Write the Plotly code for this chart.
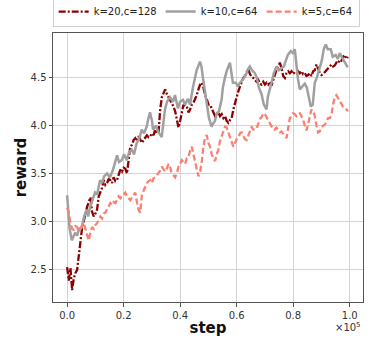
import numpy as np
import plotly.graph_objects as go

# k=20,c=128 (dark red, dash-dot) - regular logging grid
red_values = [
    2.52, 2.38, 2.51, 2.28, 2.40, 2.46, 2.49, 2.65, 2.77, 2.93, 3.00, 3.08, 3.15, 3.20, 3.25, 3.10,
    3.05, 3.08, 3.12, 3.26, 3.30, 3.35, 3.43, 3.38, 3.40, 3.44, 3.43, 3.40, 3.46, 3.42, 3.43, 3.48,
    3.54, 3.52, 3.56, 3.55, 3.50, 3.64, 3.78, 3.80, 3.85, 3.87, 3.84, 3.89, 3.86, 3.82, 3.85, 3.87,
    3.90, 3.88, 3.89, 3.92, 3.90, 3.96, 3.92, 3.93, 4.17, 4.30, 4.34, 4.38, 4.33, 4.30, 4.27, 4.24,
    4.20, 4.15, 4.08, 3.98, 4.05, 4.14, 4.22, 4.20, 4.20, 4.14, 4.17, 4.22, 4.24, 4.28, 4.32, 4.38,
    4.43, 4.45, 4.40, 4.32, 4.28, 4.22, 4.22, 4.18, 4.14, 4.10, 4.12, 4.14, 4.10, 4.12, 4.08, 4.10,
    4.05, 4.03, 4.06, 4.08, 4.17, 4.24, 4.30, 4.36, 4.41, 4.46, 4.50, 4.52, 4.56, 4.59, 4.54, 4.51,
    4.50, 4.48, 4.46, 4.48, 4.44, 4.43, 4.46, 4.43, 4.45, 4.43, 4.46, 4.42, 4.48, 4.55, 4.59, 4.62,
    4.66, 4.60, 4.52, 4.50, 4.55, 4.57, 4.55, 4.57, 4.54, 4.56, 4.55, 4.57, 4.55, 4.57, 4.54, 4.55,
    4.52, 4.53, 4.55, 4.52, 4.57, 4.58, 4.64, 4.60, 4.55, 4.53, 4.54, 4.56, 4.58, 4.61, 4.62, 4.64,
    4.62, 4.63, 4.66, 4.65, 4.69, 4.68, 4.72, 4.74, 4.70, 4.72,
]

# k=5,c=64 (salmon, dashed) - same logging grid
salmon_values = [
    3.14, 3.09, 2.98, 2.92, 2.91, 2.95, 2.94, 2.90, 2.91, 2.96, 2.98, 2.92, 2.85, 2.80, 2.88, 2.94,
    2.92, 2.96, 2.98, 3.02, 3.05, 3.03, 3.08, 3.09, 3.12, 3.15, 3.19, 3.17, 3.20, 3.19, 3.23, 3.26,
    3.24, 3.27, 3.28, 3.30, 3.26, 3.24, 3.22, 3.25, 3.28, 3.30, 3.20, 3.12, 3.09, 3.28, 3.32, 3.36,
    3.40, 3.42, 3.43, 3.40, 3.45, 3.46, 3.48, 3.50, 3.53, 3.57, 3.54, 3.52, 3.55, 3.60, 3.56, 3.50,
    3.48, 3.46, 3.50, 3.57, 3.60, 3.64, 3.62, 3.60, 3.66, 3.67, 3.74, 3.78, 3.70, 3.61, 3.54, 3.47,
    3.52, 3.62, 3.78, 3.88, 3.90, 3.82, 3.78, 3.70, 3.66, 3.63, 3.70, 3.75, 3.84, 3.89, 3.95, 3.99,
    3.98, 3.93, 3.88, 3.82, 3.78, 3.82, 3.86, 3.88, 3.92, 3.93, 3.90, 3.86, 3.85, 3.90, 3.94, 3.99,
    3.96, 3.96, 3.97, 4.02, 4.07, 4.09, 4.13, 4.12, 4.09, 4.06, 4.03, 4.00, 3.96, 3.96, 3.98, 3.95,
    3.93, 3.94, 3.91, 3.89, 3.87, 3.98, 4.08, 4.10, 4.13, 4.12, 4.10, 4.12, 4.13, 4.10, 4.06, 4.00,
    3.95, 4.02, 4.10, 4.17, 4.15, 4.10, 4.00, 3.93, 3.94, 3.98, 4.00, 4.01, 4.04, 4.08, 4.08, 4.11,
    4.22, 4.30, 4.32, 4.29, 4.26, 4.22, 4.20, 4.19, 4.17, 4.15,
]

# k=10,c=64 (grey, solid) - steps in units of 1e5
grey_steps = [
    0.0000, 0.0035, 0.0088, 0.0166, 0.0212, 0.0283, 0.0353, 0.0424, 0.0519, 0.0601, 0.0696, 0.0742,
    0.0813, 0.0919, 0.0989, 0.1060, 0.1166, 0.1237, 0.1307, 0.1413, 0.1519, 0.1625, 0.1696, 0.1767,
    0.1837, 0.1933, 0.2014, 0.2110, 0.2191, 0.2286, 0.2367, 0.2463, 0.2544, 0.2640, 0.2721, 0.2816,
    0.2862, 0.2933, 0.3004, 0.3039, 0.3145, 0.3216, 0.3346, 0.3392, 0.3463, 0.3534, 0.3640, 0.3746,
    0.3816, 0.3922, 0.3993, 0.4099, 0.4170, 0.4276, 0.4346, 0.4452, 0.4583, 0.4700, 0.4753, 0.4806,
    0.4876, 0.4947, 0.5018, 0.5113, 0.5159, 0.5230, 0.5300, 0.5371, 0.5466, 0.5512, 0.5583, 0.5654,
    0.5760, 0.5813, 0.5866, 0.5972, 0.6042, 0.6113, 0.6219, 0.6350, 0.6396, 0.6466, 0.6537, 0.6643,
    0.6714, 0.6784, 0.6880, 0.6961, 0.7057, 0.7102, 0.7173, 0.7233, 0.7314, 0.7410, 0.7491, 0.7587,
    0.7668, 0.7739, 0.7809, 0.7915, 0.7986, 0.8057, 0.8110, 0.8163, 0.8233, 0.8304, 0.8410, 0.8481,
    0.8551, 0.8622, 0.8693, 0.8763, 0.8834, 0.8940, 0.9011, 0.9081, 0.9152, 0.9223, 0.9329, 0.9399,
    0.9505, 0.9576, 0.9647, 0.9717, 0.9823, 0.9929,
]
grey_values = [
    3.27, 3.10, 2.92, 2.80, 2.84, 2.88, 2.85, 2.92, 2.94, 3.05, 3.12, 3.05,
    3.15, 3.25, 3.30, 3.28, 3.43, 3.40, 3.47, 3.50, 3.46, 3.54, 3.61, 3.69,
    3.62, 3.64, 3.70, 3.64, 3.72, 3.75, 3.70, 3.82, 3.86, 3.96, 3.92, 3.99,
    4.06, 4.14, 4.05, 3.96, 4.00, 3.94, 3.88, 4.00, 4.17, 4.25, 4.30, 4.25,
    4.32, 4.18, 4.25, 4.27, 4.22, 4.28, 4.22, 4.40, 4.58, 4.67, 4.62, 4.50,
    4.38, 4.22, 4.08, 3.99, 4.02, 4.05, 4.13, 4.15, 4.27, 4.40, 4.50, 4.58,
    4.66, 4.55, 4.45, 4.45, 4.41, 4.45, 4.48, 4.55, 4.59, 4.62, 4.58, 4.55,
    4.50, 4.40, 4.33, 4.22, 4.17, 4.30, 4.40, 4.45, 4.55, 4.62, 4.58, 4.60,
    4.62, 4.68, 4.74, 4.78, 4.76, 4.80, 4.65, 4.50, 4.38, 4.40, 4.44, 4.40,
    4.28, 4.20, 4.22, 4.45, 4.50, 4.62, 4.68, 4.80, 4.85, 4.80, 4.80, 4.72,
    4.74, 4.70, 4.76, 4.72, 4.66, 4.61,
]

last_step = 0.994  # last logged step, in units of 1e5
red_steps = np.linspace(0, last_step, len(red_values))
salmon_steps = np.linspace(0, last_step, len(salmon_values))

FONT = "DejaVu Sans"

fig = go.Figure()
fig.add_trace(go.Scatter(x=red_steps, y=red_values, mode="lines", name="k=20,c=128",
                         legendwidth=62,
                         line=dict(color="#8B0000", width=2.3, dash="7px,2px,2px,2px")))
fig.add_trace(go.Scatter(x=grey_steps, y=grey_values, mode="lines", name="k=10,c=64",
                         legendwidth=56,
                         line=dict(color="#a0a0a0", width=2.5)))
fig.add_trace(go.Scatter(x=salmon_steps, y=salmon_values, mode="lines", name="k=5,c=64",
                         legendwidth=52,
                         line=dict(color="#FA8072", width=2.3, dash="6px,3px")))

axis_common = dict(
    showgrid=True, gridcolor="#d3d3d3", gridwidth=1,
    showline=True, linecolor="#555555", linewidth=1, mirror=True,
    ticks="outside", ticklen=3.5, tickcolor="#555555", tickwidth=1,
    tickfont=dict(family=FONT, size=10, color="#333333"),
    zeroline=False,
)

fig.update_layout(
    width=372, height=341,
    margin=dict(l=53, r=9, t=33, b=39, autoexpand=False),
    paper_bgcolor="white", plot_bgcolor="white",
    font=dict(family=FONT),
    showlegend=True,
    legend=dict(
        orientation="h", x=-0.001, xanchor="left", y=1.022, yanchor="bottom",
        font=dict(family=FONT, size=10, color="#222222"),
        bordercolor="#d0d0d0", borderwidth=1, bgcolor="white",
        itemwidth=30, tracegroupgap=0,
    ),
    xaxis=dict(axis_common, range=[-0.05, 1.047],
               tickvals=[0, 0.2, 0.4, 0.6, 0.8, 1.0],
               ticktext=["0.0", "0.2", "0.4", "0.6", "0.8", "1.0"],
               title=dict(text="<b>step</b>", font=dict(family=FONT, size=15, color="#111111"),
                          standoff=2)),
    yaxis=dict(axis_common, range=[2.155, 4.97],
               tickvals=[2.5, 3.0, 3.5, 4.0, 4.5],
               ticktext=["2.5", "3.0", "3.5", "4.0", "4.5"],
               title=dict(text="<b>reward</b>", font=dict(family=FONT, size=15, color="#111111"),
                          standoff=0)),
    annotations=[dict(text="×10<sup>5</sup>", xref="paper", yref="paper", x=1.0, y=-0.065,
                      xanchor="right", yanchor="top", showarrow=False,
                      font=dict(family=FONT, size=10, color="#333333"))],
)

fig.write_html("out.html", config={"displayModeBar": False},
               post_script="document.body.style.margin='0';")
